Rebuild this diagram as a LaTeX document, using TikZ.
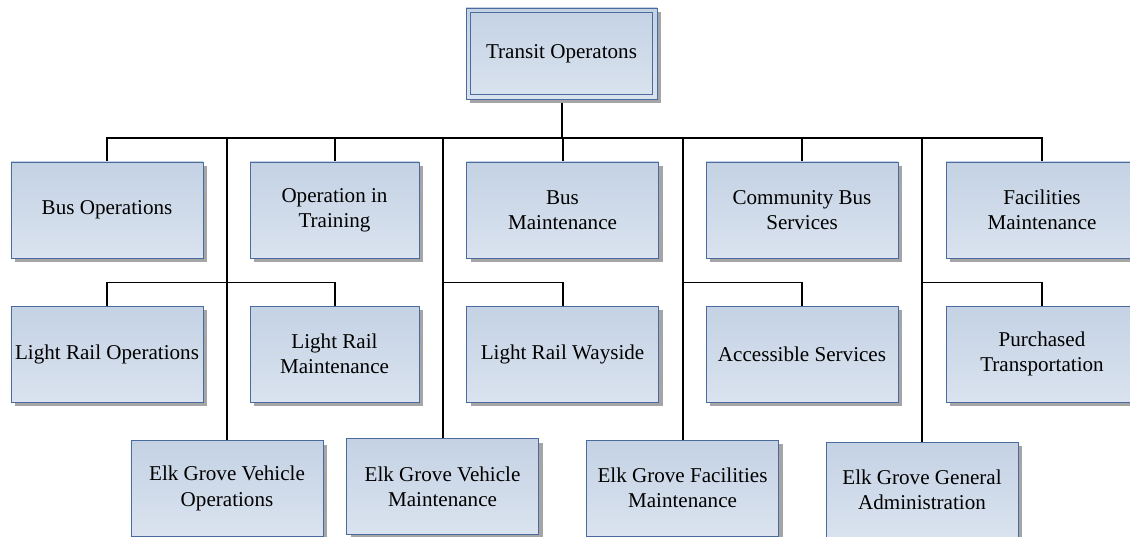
\documentclass[tikz,border=0pt]{standalone}
\usepackage{fontspec}
\setmainfont{Liberation Serif}
\usetikzlibrary{positioning, shadows, backgrounds}
\definecolor{boxTop}{HTML}{C4D2E4}
\definecolor{boxBottom}{HTML}{DAE3EF}
\definecolor{boxEdge}{HTML}{4A6B9E}
\definecolor{shadowGray}{HTML}{A5A5A5}
\tikzset{
  unit/.style={rectangle, draw=boxEdge, line width=0.8pt,
               top color=boxTop, bottom color=boxBottom,
               align=center, font=\fontsize{18}{21.5}\selectfont, inner sep=2pt,
               minimum width=5.76cm, minimum height=2.88cm,
               drop shadow={shadow xshift=0.12cm, shadow yshift=-0.12cm,
                            fill=shadowGray, opacity=1}},
  unitN/.style={unit, minimum width=5.07cm},
  link/.style={black, line width=1.7pt},
}
\begin{document}
\begin{tikzpicture}[x=0.03cm, y=-0.03cm]
    \useasboundingbox (0,0) rectangle (1130,537);

    % top of the chart
    \node[unit, minimum width=5.73cm, minimum height=2.73cm] (root) at (561.5,53.5)
         {Transit Operatons};
    \draw[draw=boxEdge, line width=0.8pt]
         ([shift={(0.15cm,-0.15cm)}]root.north west) rectangle
         ([shift={(-0.15cm,0.15cm)}]root.south east);

    % first row
    \node[unit]  (busop)    at (107,210)   {Bus Operations};
    \node[unitN] (optrain)  at (334.5,210) {Operation in\\Training};
    \node[unit]  (busmaint) at (562.5,210) {Bus\\Maintenance};
    \node[unit]  (commbus)  at (802,210)   {Community Bus\\Services};
    \node[unit]  (facmaint) at (1042,210)  {Facilities\\Maintenance};

    % second row
    \node[unit]  (lrops)   at (107,354)   {Light Rail Operations};
    \node[unitN] (lrmaint) at (334.5,354) {Light Rail\\Maintenance};
    \node[unit]  (lrway)   at (562.5,354) {Light Rail Wayside};
    \node[unit]  (access)  at (802,354)   {Accessible Services};
    \node[unit]  (purch)   at (1042,354)  {Purchased\\Transportation};

    % third row (Elk Grove)
    \node[unit] (egvo) at (227,488.5)   {Elk Grove Vehicle\\Operations};
    \node[unit] (egvm) at (442.5,486.5) {Elk Grove Vehicle\\Maintenance};
    \node[unit] (egfm) at (682.5,488)   {Elk Grove Facilities\\Maintenance};
    \node[unit] (egga) at (922,490)     {Elk Grove General\\Administration};

    % connectors
    \coordinate (bus) at (562,138);
    \coordinate (mid) at (0,282.5);
    \begin{scope}[on background layer]
      \foreach \c in {busop, optrain, busmaint, commbus, facmaint, egvo, egvm, egfm, egga}
        \draw[link] (root.south) -- (root.south |- bus) -| (\c.north);
      \foreach \t/\c in {egvo/lrops, egvo/lrmaint, egvm/lrway, egfm/access, egga/purch}
        \draw[link] (\t.north |- mid) -| (\c.north);
    \end{scope}
\end{tikzpicture}
\end{document}
